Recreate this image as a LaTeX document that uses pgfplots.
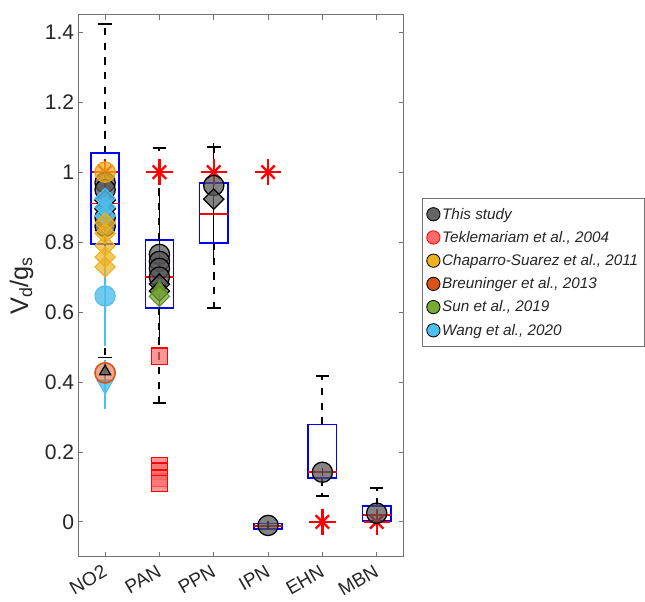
\documentclass[border=0pt]{standalone}
\usepackage{fontspec}
\setmainfont{Liberation Sans}
\usepackage{pgfplots}
\pgfplotsset{compat=1.18}
\usepgfplotslibrary{statistics}

\definecolor{boxblue}{rgb}{0,0,1}
\definecolor{studygray}{rgb}{0.33,0.33,0.33}
\definecolor{tekred}{rgb}{1,0.42,0.42}
\definecolor{chapyel}{rgb}{0.929,0.694,0.125}
\definecolor{breorg}{rgb}{0.85,0.325,0.098}
\definecolor{sungrn}{rgb}{0.466,0.674,0.188}
\definecolor{wangblu}{rgb}{0.301,0.745,0.933}
\definecolor{axgray}{rgb}{0.45,0.45,0.45}
\definecolor{txtgray}{rgb}{0.15,0.15,0.15}

\pgfplotsset{
  mbox/.style={boxblue, line width=1.5pt, forget plot, solid,
    boxplot/draw direction=y,
    boxplot/box extend=0.52, boxplot/whisker extend=0,
    boxplot/every whisker/.style={black, line width=1.8pt, dash pattern=on 7pt off 7pt},
    boxplot/every median/.style={red, line width=1.5pt}},
  study/.style={only marks, forget plot, mark size=9.6pt,
    mark options={draw=black, fill=studygray, fill opacity=0.72, line width=1.2pt}},
  studyd/.style={only marks, forget plot, mark=square*, mark size=6.8pt,
    mark options={rotate=45, draw=black, fill=studygray, fill opacity=0.72, line width=1.2pt}},
  studyerr/.style={error bars/.cd, y dir=both, y explicit,
    error bar style={black, line width=1.3pt}, error mark options={black, line width=1.3pt, mark size=4pt}},
}

\begin{document}
\begin{tikzpicture}
\begin{axis}[
  width=309pt, height=514pt, scale only axis,
  xmin=0.5, xmax=6.5, ymin=-0.1, ymax=1.45,
  xtick={1,2,3,4,5,6}, xticklabels={NO2,PAN,PPN,IPN,EHN,MBN},
  ytick={0,0.2,0.4,0.6,0.8,1,1.2,1.4},
  yticklabel style={/pgf/number format/fixed, /pgf/number format/precision=1},
  /pgf/number format/assume math mode=true,
  tick label style={font=\fontsize{20}{24}\selectfont, text=txtgray},
  x tick label style={font=\fontsize{18}{22}\selectfont, rotate=30, anchor=north east,
    inner sep=1pt, xshift=-5pt, yshift=-3pt},
  tick align=inside, major tick length=5pt,
  axis line style={axgray, line width=0.8pt},
  tick style={axgray, line width=0.8pt},
  ylabel={V\textsubscript{d}/g\textsubscript{s}}, ylabel shift=4pt,
  ylabel style={font=\fontsize{24}{29}\selectfont, text=txtgray},
  legend style={at={(1.056,0.525)}, anchor=west, draw=axgray, line width=0.8pt,
    font=\fontsize{14.5}{17}\selectfont\itshape, text=txtgray, row sep=6pt,
    inner xsep=4pt, inner ysep=7pt},
  legend cell align=left,
]
% legend entries
\addlegendimage{only marks, mark=*, mark size=6.3pt, draw=none, fill=studygray!90}
\addlegendentry{This study}
\addlegendimage{only marks, mark=*, mark size=6.3pt, draw=red, fill=tekred}
\addlegendentry{Teklemariam et al., 2004}
\addlegendimage{only marks, mark=*, mark size=6.3pt, draw=none, fill=chapyel}
\addlegendentry{Chaparro-Suarez et al., 2011}
\addlegendimage{only marks, mark=*, mark size=6.3pt, draw=none, fill=breorg}
\addlegendentry{Breuninger et al., 2013}
\addlegendimage{only marks, mark=*, mark size=6.3pt, draw=none, fill=sungrn}
\addlegendentry{Sun et al., 2019}
\addlegendimage{only marks, mark=*, mark size=6.3pt, draw=none, fill=wangblu}
\addlegendentry{Wang et al., 2020}

% boxes: position, lower whisker, q1, median, q3, upper whisker
\addplot[mbox, boxplot prepared={draw position=1, lower whisker=0.47, lower quartile=0.794,
  median=0.91, upper quartile=1.054, upper whisker=1.423}] coordinates {};
\addplot[mbox, boxplot prepared={draw position=2, lower whisker=0.341, lower quartile=0.612,
  median=0.701, upper quartile=0.806, upper whisker=1.069}] coordinates {};
\addplot[mbox, boxplot prepared={draw position=3, lower whisker=0.612, lower quartile=0.798,
  median=0.88, upper quartile=0.969, upper whisker=1.072}] coordinates {};
\addplot[mbox, boxplot prepared={draw position=4, lower whisker=-0.02, lower quartile=-0.02,
  median=-0.012, upper quartile=-0.005, upper whisker=-0.005}] coordinates {};
\addplot[mbox, boxplot prepared={draw position=5, lower whisker=0.073, lower quartile=0.125,
  median=0.142, upper quartile=0.278, upper whisker=0.418}] coordinates {};
\addplot[mbox, boxplot prepared={draw position=6, lower whisker=0.003, lower quartile=0.003,
  median=0.02, upper quartile=0.046, upper whisker=0.098}] coordinates {};
% whisker caps
\addplot[black, line width=1.8pt, forget plot, unbounded coords=jump] coordinates {
  (0.875,1.423) (1.125,1.423) (1,nan)
  (0.875,0.47) (1.125,0.47) (1,nan)
  (1.875,1.069) (2.125,1.069) (2,nan)
  (1.875,0.341) (2.125,0.341) (2,nan)
  (2.875,1.072) (3.125,1.072) (3,nan)
  (2.875,0.612) (3.125,0.612) (3,nan)
  (4.875,0.418) (5.125,0.418) (5,nan)
  (4.875,0.073) (5.125,0.073) (5,nan)
  (5.875,0.098) (6.125,0.098)
};

% red asterisks
\addplot[only marks, forget plot, red, mark=+, mark size=12.5pt, line width=2.2pt]
  coordinates {(1,1.0) (2,1.0) (3,1.0) (4,1.0) (5,0) (6,0)};
\addplot[only marks, forget plot, red, mark=x, mark size=9pt, line width=2.2pt]
  coordinates {(1,1.0) (2,1.0) (3,1.0) (4,1.0) (5,0) (6,0)};

% This study
\addplot[study, mark=*, studyerr] coordinates {
  (1,0.97) +- (0,0.04)
  (1,0.95) +- (0,0.04)
  (1,0.87) +- (0,0.04)
  (1,0.845) +- (0,0.04)
  (2,0.765) += (0,0.165) -= (0,0.175)
  (2,0.745) += (0,0.155) -= (0,0.175)
  (2,0.725) += (0,0.145) -= (0,0.185)
  (2,0.70) += (0,0.15) -= (0,0.1)
  (3,0.962) +- (0,0.03)
  (4,-0.01) +- (0,0)
  (5,0.142) +- (0,0)
  (6,0.025) +- (0,0)
};
\addplot[studyd, studyerr] coordinates {
  (1,0.92) +- (0,0.03)
  (1,0.895) +- (0,0.03)
  (2,0.68) += (0,0.15) -= (0,0.09)
  (2,0.66) +- (0,0.05)
  (3,0.923) += (0,0.149) -= (0,0.157)
};

% Teklemariam et al., 2004
\addplot[only marks, forget plot, mark=square*, mark size=7.7pt,
  mark options={draw=red, fill=tekred, fill opacity=0.7, line width=1.2pt}]
  coordinates {(2,0.474) (2,0.16) (2,0.145) (2,0.125) (2,0.11)};

% Wang et al., 2020
\addplot[only marks, forget plot, mark=*, mark size=9.6pt,
  mark options={draw=wangblu, fill=wangblu, fill opacity=0.8, line width=1pt},
  error bars/.cd, y dir=both, y explicit,
  error bar style={wangblu, line width=1.3pt}, error mark options={wangblu, line width=1.3pt, mark size=4pt}]
  coordinates {(1,0.646) +- (0,0.131)};
\addplot[only marks, forget plot, mark=square*, mark size=6.8pt,
  mark options={rotate=45, draw=wangblu, fill=wangblu, fill opacity=0.8, line width=1pt}]
  coordinates {(1,0.925) (1,0.9) (1,0.875)};
\addplot[only marks, forget plot, mark=triangle*, mark size=8.7pt,
  mark options={rotate=180, draw=wangblu, fill=wangblu, fill opacity=0.8, line width=1pt},
  error bars/.cd, y dir=both, y explicit,
  error bar style={wangblu, line width=1.3pt}, error mark options={wangblu, line width=1.3pt, mark size=4pt}]
  coordinates {(1,0.392) +- (0,0.058)};

% Chaparro-Suarez et al., 2011
\addplot[only marks, forget plot, mark=*, mark size=9.6pt,
  mark options={draw=chapyel!80!breorg, fill=chapyel, fill opacity=0.75, line width=1.2pt}]
  coordinates {(1,1.0)};
\addplot[only marks, forget plot, mark=square*, mark size=6.8pt,
  mark options={rotate=45, draw=chapyel, fill=chapyel, fill opacity=0.7, line width=1pt}]
  coordinates {(1,0.855) (1,0.825) (1,0.79) (1,0.757) (1,0.729)};

% Breuninger et al., 2013
\addplot[only marks, forget plot, mark=*, mark size=9.6pt,
  mark options={draw=breorg, fill=breorg, fill opacity=0.5, line width=1.5pt}]
  coordinates {(1,0.426)};
\addplot[study, mark=triangle*, mark size=6pt] coordinates {(1,0.43)};

% Sun et al., 2019
\addplot[only marks, forget plot, mark=triangle*, mark size=8.7pt,
  mark options={draw=sungrn!80!black, fill=sungrn, fill opacity=0.75, line width=1pt}]
  coordinates {(2,0.665)};
\addplot[only marks, forget plot, mark=square*, mark size=6.8pt,
  mark options={rotate=45, draw=sungrn!80!black, fill=sungrn, fill opacity=0.75, line width=1pt}]
  coordinates {(2,0.645)};
\end{axis}
\path ([yshift=14pt]current axis.north);
\path ([xshift=-6pt]current axis.outer west);
\path ([yshift=-3pt]current axis.outer south);
\end{tikzpicture}
\end{document}
